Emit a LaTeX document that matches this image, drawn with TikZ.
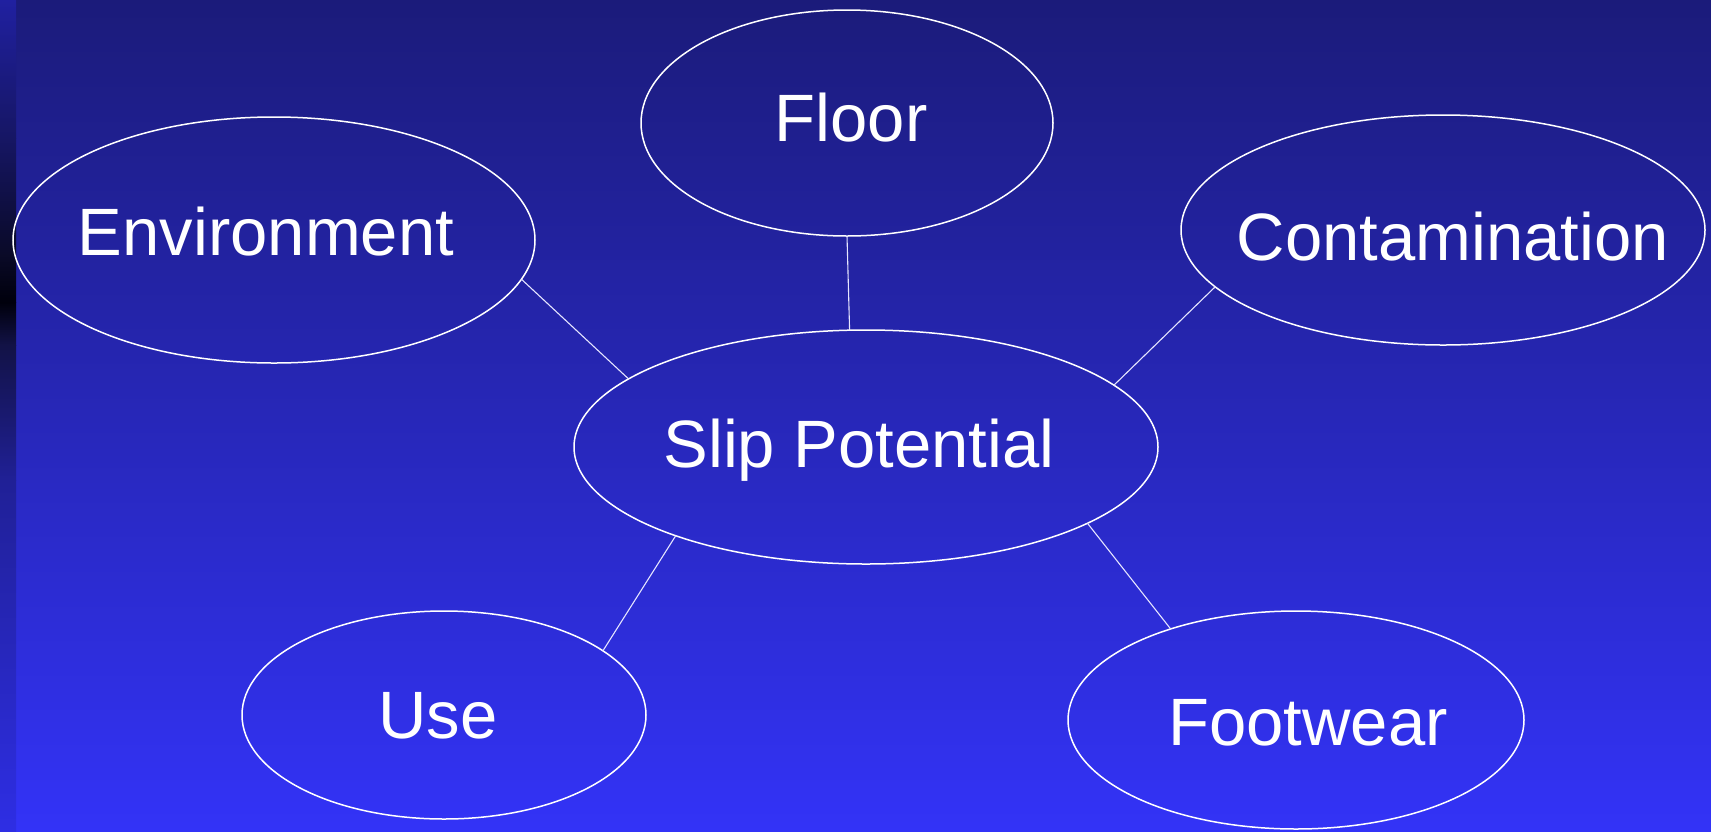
\documentclass[tikz,border=0pt]{standalone}
\usepackage{fontspec}
\setmainfont{Liberation Sans}
\usetikzlibrary{shapes.geometric}
\definecolor{bgtop}{RGB}{27,27,122}
\definecolor{bgbot}{RGB}{51,51,247}
\tikzset{
  oval/.style={ellipse, draw=white, line width=1.5pt, inner sep=0pt, outer sep=0pt},
  lbl/.style={text=white, font=\fontsize{67}{70}\selectfont, anchor=base, inner sep=0pt},
  link/.style={draw=white!90!blue, line width=1.1pt}
}
\begin{document}
\begin{tikzpicture}[x=1pt,y=-1pt]
\useasboundingbox (0,0) rectangle (1711,831);
% background
\shade[top color=bgtop, bottom color=bgbot] (16,0) rectangle (1711,831);
% left strip
\shade[top color={rgb,255:red,32;green,32;blue,160}, bottom color={rgb,255:red,22;green,22;blue,100}] (0,0) rectangle (16,138);
\shade[top color={rgb,255:red,22;green,22;blue,100}, bottom color={rgb,255:red,10;green,10;blue,40}] (0,138) rectangle (16,254);
\shade[top color={rgb,255:red,10;green,10;blue,40}, bottom color={rgb,255:red,0;green,0;blue,12}] (0,254) rectangle (16,302);
\shade[top color={rgb,255:red,0;green,0;blue,12}, bottom color={rgb,255:red,18;green,18;blue,70}] (0,302) rectangle (16,345);
\shade[top color={rgb,255:red,18;green,18;blue,70}, bottom color={rgb,255:red,32;green,32;blue,150}] (0,345) rectangle (16,480);
\shade[top color={rgb,255:red,32;green,32;blue,150}, bottom color={rgb,255:red,46;green,46;blue,228}] (0,480) rectangle (16,831);
% ellipses
\node[oval, minimum width=412pt, minimum height=226pt] (floor) at (847,123) {};
\node[oval, minimum width=522pt, minimum height=246pt] (env) at (274,240) {};
\node[oval, minimum width=524pt, minimum height=230pt] (cont) at (1443,230) {};
\node[oval, minimum width=584pt, minimum height=234pt] (slip) at (866,447) {};
\node[oval, minimum width=404pt, minimum height=208pt] (use) at (444,715) {};
\node[oval, minimum width=456pt, minimum height=218pt] (foot) at (1296,720) {};
% labels
\node[lbl] (tfloor) at (851,141) {Floor};
\node[lbl] (tenv) at (266,255) {Environment};
\node[lbl] (tcont) at (1453,260) {Contamination};
\node[lbl] (tslip) at (859,467) {Slip Potential};
\node[lbl] (tuse) at (438,738) {Use};
\node[lbl] (tfoot) at (1308,745) {Footwear};
% connectors
\draw[link] (env.-9.7) -- (slip.164.4);
\draw[link] (floor.-90) -- (slip.98.3);
\draw[link] (cont.194.8) -- (slip.14.3);
\draw[link] (use.22.2) -- (slip.205.4);
\draw[link] (foot.144.9) -- (slip.-19.8);
\end{tikzpicture}
\end{document}
